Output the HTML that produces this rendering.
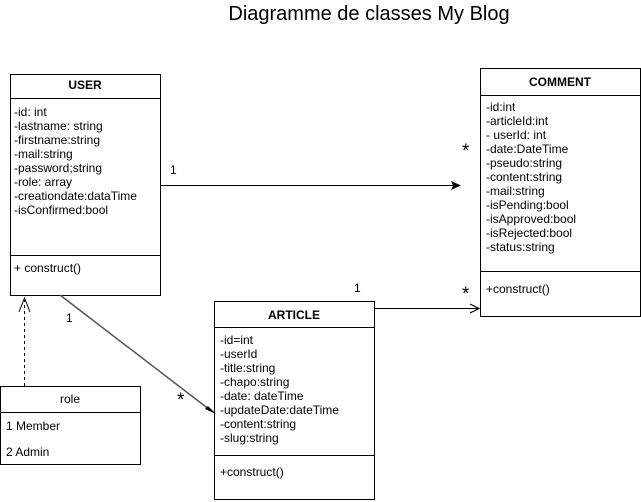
<!DOCTYPE html>
<html><head><style>body{margin:0;background:#fff}svg{display:block}text{font-family:"Liberation Sans",Arial,sans-serif;font-size:12px;fill:#000}</style></head><body>
<svg width="641" height="502" xmlns="http://www.w3.org/2000/svg">
<text x="369" y="20" text-anchor="middle" style="font-size:20px">Diagramme de classes My Blog</text>
<g fill="#fff" stroke="#000" stroke-width="1">
<rect x="10.5" y="74.5" width="150" height="221"/><line x1="10" y1="98.5" x2="160" y2="98.5"/><line x1="10" y1="255.5" x2="160" y2="255.5"/>
<rect x="480.5" y="68.5" width="160" height="248"/><line x1="480" y1="95.5" x2="640" y2="95.5"/><line x1="480" y1="271.5" x2="640" y2="271.5"/>
<rect x="214.5" y="301.5" width="160" height="198"/><line x1="214" y1="327.5" x2="374" y2="327.5"/><line x1="214" y1="455.5" x2="374" y2="455.5"/>
<rect x="0.5" y="386.5" width="140" height="78"/><line x1="0" y1="412.5" x2="140" y2="412.5"/>
</g>
<g stroke="#000" fill="none">
<line x1="160" y1="185.5" x2="456" y2="185.5"/>
<polyline points="374,308.5 478,308.5"/><polyline points="470,304 479,308.5 470,313"/>
<line x1="24.5" y1="386" x2="24.5" y2="300" stroke-dasharray="3,3"/><polyline points="19,312 24.5,298 30,312"/>
<line x1="60" y1="295" x2="210" y2="410" stroke="#555" stroke-width="1.5"/>
</g>
<polygon points="461,185.5 451,181 453,185.5 451,190" fill="#000"/>
<polygon points="216,414 205,409 208,406" fill="#000"/>
<text x="85" y="89" text-anchor="middle" style="font-weight:bold">USER</text>
<text x="560" y="86" text-anchor="middle" style="font-weight:bold">COMMENT</text>
<text x="294" y="319" text-anchor="middle" style="font-weight:bold">ARTICLE</text>
<text x="70" y="403" text-anchor="middle">role</text>
<g>
<text x="14" y="116">-id: int</text><text x="14" y="130">-lastname: string</text><text x="14" y="144">-firstname:string</text><text x="14" y="158">-mail:string</text><text x="14" y="172">-password;string</text><text x="14" y="186">-role: array</text><text x="14" y="200">-creationdate:dataTime</text><text x="14" y="214">-isConfirmed:bool</text><text x="14" y="272">+ construct()</text>
<text x="486" y="111">-id:int</text><text x="486" y="125">-articleId:int</text><text x="486" y="139">- userId: int</text><text x="486" y="153">-date:DateTime</text><text x="486" y="167">-pseudo:string</text><text x="486" y="181">-content:string</text><text x="486" y="195">-mail:string</text><text x="486" y="209">-isPending:bool</text><text x="486" y="223">-isApproved:bool</text><text x="486" y="237">-isRejected:bool</text><text x="486" y="251">-status:string</text><text x="486" y="293">+construct()</text>
<text x="220" y="344">-id=int</text><text x="220" y="358">-userId</text><text x="220" y="372">-title:string</text><text x="220" y="386">-chapo:string</text><text x="220" y="400">-date: dateTime</text><text x="220" y="414">-updateDate:dateTime</text><text x="220" y="428">-content:string</text><text x="220" y="442">-slug:string</text><text x="220" y="476">+construct()</text>
<text x="6" y="430">1 Member</text><text x="6" y="456">2 Admin</text>
<text x="170" y="174">1</text><text x="354" y="292">1</text><text x="66" y="322">1</text>
<text x="462" y="157" style="font-size:19px">*</text><text x="462" y="300" style="font-size:19px">*</text><text x="177" y="406" style="font-size:19px">*</text>
</g>
</svg>
</body></html>
